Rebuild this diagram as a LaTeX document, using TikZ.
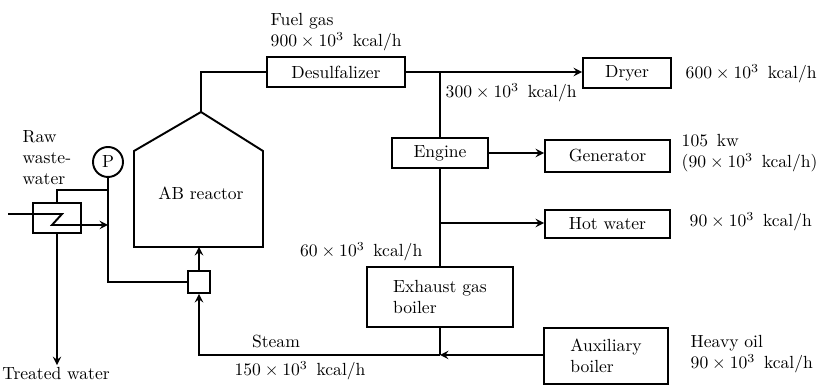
\documentclass[tikz,border=0pt]{standalone}
\usepackage{amsmath,amssymb}
\usepackage{tikz}

\begin{document}
\begin{tikzpicture}[x=0.2mm,y=-0.2mm,>=stealth,line width=1.1pt,
    box/.style={draw,line width=1.1pt,minimum height=0.6cm,inner sep=2pt},
    lbl/.style={align=left,inner sep=1pt}]
	  \useasboundingbox (0,0) rectangle (826,385);
	  % units and boxes
	  \node[box,minimum width=2.76cm] (desulf) at (336,72) {Desulfalizer};
	  \node[box,minimum width=1.76cm] (dryer) at (627,73) {Dryer};
	  \node[box,minimum width=1.92cm] (engine) at (440,153) {Engine};
	  \node[box,minimum width=2.5cm,minimum height=0.64cm] (gen) at (607.5,156) {Generator};
	  \node[box,minimum width=2.5cm,minimum height=0.56cm] (hotw) at (607.5,224) {Hot water};
	  \node[box,minimum width=2.92cm,minimum height=1.2cm,align=left] (exh) at (440,297) {Exhaust gas\\boiler};
	  \node[box,minimum width=2.48cm,minimum height=1.12cm,align=left] (aux) at (606,356) {Auxiliary\\boiler};
	  \node[box,minimum size=0.44cm,inner sep=0pt] (mix) at (199,282) {};
	  \node[draw,circle,minimum size=0.6cm,inner sep=0pt] (pump) at (108,162) {P};
	  \node[box,minimum width=0.96cm] (hx) at (57,218) {};
	  % reactor
	  \draw (134,247) -- (134,151) -- (201,112) coordinate (rtop) -- (263,151) -- (263,247) -- cycle;
	  \node (reactor) at (201,193) {AB reactor};
	  \coordinate (rbot) at (199,247);
	  % junctions
	  \coordinate (j1) at (440,72);
	  \coordinate (j2) at (440,223);
	  \coordinate (j3) at (440,355);
	  \coordinate (j4) at (108,190);
	  \coordinate (win) at (8,214);
	  \coordinate (zt) at (62,214);
	  \coordinate (zb) at (52,225);
	  % labels
	  \node[lbl,anchor=west] (raw) at (20,158) {Raw\\waste-\\water};
	  \node[lbl,anchor=west] (fuel) at (268,32) {Fuel gas\\$900\times10^{3}$\enspace kcal/h};
	  \node[lbl,anchor=west] (q300) at (443,93) {$300\times10^{3}$\enspace kcal/h};
	  \node[lbl,anchor=west] (q600) at (683,74) {$600\times10^{3}$\enspace kcal/h};
	  \node[lbl,anchor=west] (q105) at (679,153) {105\enspace kw\\$(90\times10^{3}$\enspace kcal/h)};
	  \node[lbl,anchor=west] (q90) at (687,222) {$90\times10^{3}$\enspace kcal/h};
	  \node[lbl,anchor=east] (q60) at (425,252) {$60\times10^{3}$\enspace kcal/h};
	  \node[lbl] (steam) at (276,342) {Steam};
	  \node[lbl] (q150) at (300,371) {$150\times10^{3}$\enspace kcal/h};
	  \node[lbl,anchor=west] (oil) at (688,354) {Heavy oil\\$90\times10^{3}$\enspace kcal/h};
	  \node[lbl] (treated) at (56,374) {Treated water};
	  % connectors
	  \draw (rtop) |- (desulf);
	  \draw[->] (desulf.east) -- (desulf.east -| dryer.west);
	  \draw (j1) -- (engine);
	  \draw[->] (engine.east) -- (engine.east -| gen.west);
	  \draw (engine) -- (exh);
	  \draw[->] (j2) -- (j2 -| hotw.west);
	  \draw (exh) -- (j3);
	  \draw[->] (aux.west |- j3) -- (j3);
	  \draw[->] (j3) -| (mix);
	  \draw[->] (mix) -- (rbot);
	  \draw (pump) |- (mix);
	  \draw (hx.north) |- (j4);
	  \draw[->] (win) -- (zt) -- (zb) -- (zb -| pump);
	  \draw[->] (hx.south) -- (hx.south |- treated.north);
	\end{tikzpicture}
\end{document}
